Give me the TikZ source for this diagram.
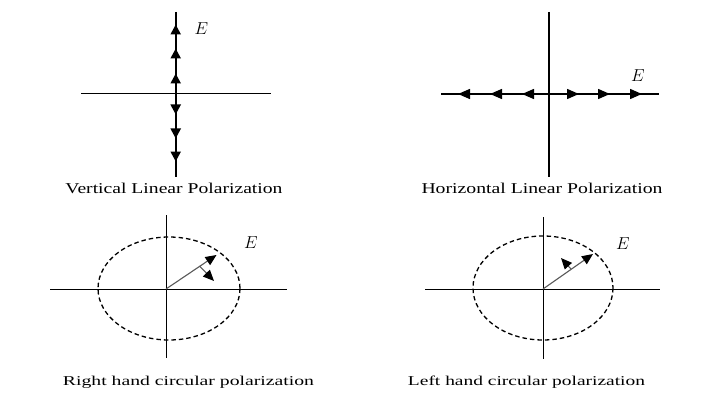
\documentclass[tikz,border=0pt]{standalone}
\usepackage{fontspec}
\setmainfont{Liberation Serif}
\usetikzlibrary{arrows.meta}
\newcommand\capfit[3]{\resizebox{#1}{\height}{\fontsize{#2}{#2}\selectfont #3}}
\begin{document}
\begin{tikzpicture}[x=1pt,y=-1pt,
  axis/.style={line width=1pt,black},
  thickaxis/.style={line width=2.2pt,black},
  vtip/.style={-{Triangle[length=10pt,width=10pt]},line width=2.2pt},
  htip/.style={-{Triangle[length=12pt,width=10pt]},line width=1.4pt},
  ell/.style={line width=1.3pt,dash pattern=on 4.5pt off 3pt},
  rot/.style={line width=1.1pt,gray!70!black,-{Triangle[length=11pt,width=9.5pt,color=black]}},
  elabel/.style={font=\fontsize{17}{17}\selectfont,inner sep=0pt},
  caption/.style={inner sep=0pt,anchor=base}]
\useasboundingbox (0,0) rectangle (709,409);
\fill[white] (0,0) rectangle (709,409);

% ---- top left: vertical linear ----
\coordinate (a1l) at (81,94);
\coordinate (a1r) at (271,94);
\coordinate (a1t) at (175.7,12);
\coordinate (a1b) at (175.7,177);
\draw[axis] (a1l) -- (a1r);
\draw[thickaxis] (a1t) -- (a1b);
\foreach \b/\t in {34/24.5, 58/48.5, 83/73.5}
  \draw[vtip] (175.7,\b) -- (175.7,\t);
\foreach \b/\t in {105/114.5, 129/138.5, 152/161.5}
  \draw[vtip] (175.7,\b) -- (175.7,\t);
\node[elabel] (e1) at (201.5,29) {$E$};
\node[caption] (c1) at (174,193) {\capfit{217pt}{15}{Vertical Linear Polarization}};

% ---- top right: horizontal linear ----
\coordinate (a2l) at (441,94);
\coordinate (a2r) at (659,94);
\coordinate (a2t) at (549,12);
\coordinate (a2b) at (549,177);
\draw[line width=1.4pt] (a2t) -- (a2b);
\draw[line width=1.4pt] (a2l) -- (a2r);
\foreach \b/\t in {470/458, 502/490, 534/522}
  \draw[htip] (\b,94) -- (\t,94);
\foreach \b/\t in {567/579, 598/610, 630/642}
  \draw[htip] (\b,94) -- (\t,94);
\node[elabel] (e2) at (638,76) {$E$};
\node[caption] (c2) at (542,193) {\capfit{241pt}{15}{Horizontal Linear Polarization}};

% ---- bottom left: right hand circular ----
\coordinate (o3) at (166,289);
\coordinate (a3l) at (50,289);
\coordinate (a3r) at (287,289);
\coordinate (a3t) at (166,215);
\coordinate (a3b) at (166,358);
\draw[axis] (a3l) -- (a3r);
\draw[axis] (a3t) -- (a3b);
\draw[ell] (169,288.5) ellipse [x radius=71, y radius=51.5];
\coordinate (t3) at (216.5,255);
\draw[rot] (o3) -- (t3);
\coordinate (s3) at (199.5,266);
\coordinate (r3) at (214,281);
\draw[rot] (s3) -- (r3);
\node[elabel] (e3) at (251,243) {$E$};
\node[caption] (c3) at (188.5,385) {\capfit{251pt}{13.5}{Right hand circular polarization}};

% ---- bottom right: left hand circular ----
\coordinate (o4) at (543,289);
\coordinate (a4l) at (425,289);
\coordinate (a4r) at (660,289);
\coordinate (a4t) at (543,217);
\coordinate (a4b) at (543,359);
\draw[axis] (a4l) -- (a4r);
\draw[axis] (a4t) -- (a4b);
\draw[ell] (543,288) ellipse [x radius=70, y radius=52];
\coordinate (t4) at (593,254);
\draw[rot] (o4) -- (t4);
\coordinate (s4) at (571,269);
\coordinate (r4) at (561,258);
\draw[rot] (s4) -- (r4);
\node[elabel] (e4) at (623,244) {$E$};
\node[caption] (c4) at (526.5,385) {\capfit{237pt}{13.5}{Left hand circular polarization}};
\end{tikzpicture}
\end{document}
